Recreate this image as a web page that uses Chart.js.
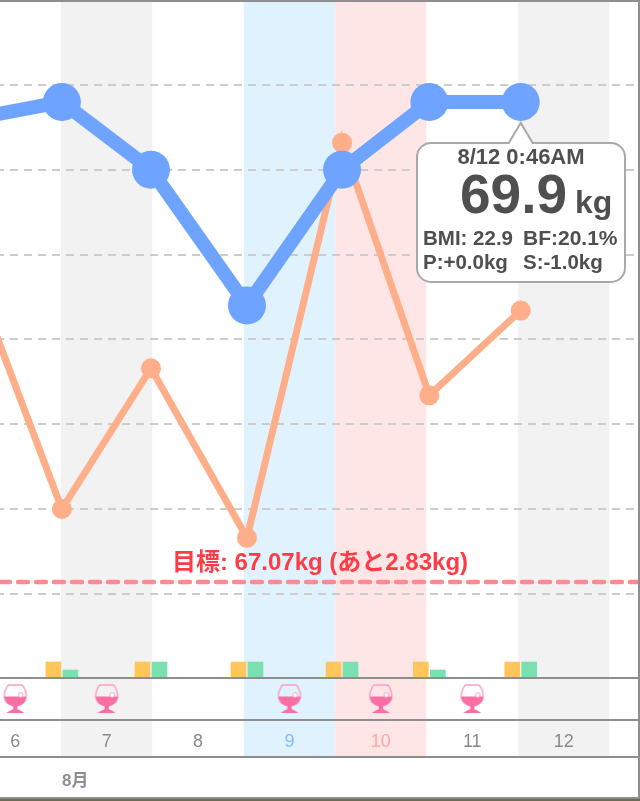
<!DOCTYPE html>
<html><head><meta charset="utf-8">
<style>html,body{margin:0;padding:0;background:#fff}canvas{display:block}</style>
<script src="https://cdn.jsdelivr.net/npm/chart.js@4"></script>
</head><body><canvas id="c" width="640" height="801"></canvas>
<script>
// ---- data ----
const dayLabels = [6,7,8,9,10,11,12];
const measureTimes = [6.03,7.01,7.985,9.035,10.075,11.03,12.03];
const weightKg = [69.8,69.9,69.5,68.7,69.5,69.9,69.9];
const secondSeries = [68.9,67.5,68.33,67.33,69.66,68.17,68.67];
const activityA = [null,2,2,2,2,2,2];
const activityB = [null,1,2,2,2,1,2];
const drinkDays = [6,7,9,10,11];
const goalKg = 67.07;
const gridKg = [70,69.5,69,68.5,68,67.5,67];
const xRange = [6.333,13.335];
const yRange = [66.256,70.501];
const barRange = [-5.25,84.75];
const bandDays = [7,8,9,10,11,12];
const bandColors = ['#f2f2f2','#ffffff','#e0f2fe','#ffe6e6','#ffffff','#f2f2f2'];
const dayColors = {9:'#7fbdff',10:'#ffa6a6'};
const goalText = '目標: 67.07kg (あと2.83kg)';
const monthText = '8月';
const tip = {date:'8/12 0:46AM',value:'69.9',unit:'kg',bmi:'BMI: 22.9',bf:'BF:20.1%',p:'P:+0.0kg',s:'S:-1.0kg'};
const FONT = '"Liberation Sans","Noto Sans CJK JP",sans-serif';

function zip(xs,ys){return xs.map((x,i)=>({x,y:ys[i]})).filter(p=>p.y!==null);}

function glassIcon(){
  const c=document.createElement('canvas');c.width=26;c.height=32;
  const g=c.getContext('2d');
  const pink='#f96fa3';
  g.save();
  g.beginPath();g.moveTo(6,2);g.lineTo(20,2);
  g.bezierCurveTo(23,6,24,10,24,13);g.bezierCurveTo(24,19,19,23,13,23);
  g.bezierCurveTo(7,23,2,19,2,13);g.bezierCurveTo(2,10,3,6,6,2);g.closePath();
  g.strokeStyle='#fb9fc2';g.lineWidth=1.4;g.stroke();
  g.clip();
  g.fillStyle=pink;g.fillRect(0,13.5,26,11);
  g.restore();
  g.beginPath();g.arc(18.5,12,2.4,0,Math.PI*2);g.fillStyle='#fff';g.fill();g.strokeStyle='#fb9fc2';g.lineWidth=1;g.stroke();
  g.fillStyle=pink;
  g.beginPath();g.moveTo(10.5,22);g.lineTo(15.5,22);g.lineTo(15,26);g.lineTo(19,28);g.lineTo(22,30);g.lineTo(4,30);g.lineTo(7,28);g.lineTo(11,26);g.closePath();g.fill();
  return c;
}

const chrome = {
  id:'chrome',
  beforeDraw(ch){
    const {ctx,scales:{x}}=ch;
    ctx.save();
    ctx.fillStyle='#fff';ctx.fillRect(0,0,640,801);
    bandDays.forEach((d,i)=>{
      const a=x.getPixelForValue(d),b=x.getPixelForValue(d+1);
      ctx.fillStyle=bandColors[i];ctx.fillRect(a,0,b-a,757);
    });
    ctx.restore();
  },
  afterDatasetsDraw(ch){
    const {ctx,scales:{x,y,yBar}}=ch;
    ctx.save();
    ctx.fillStyle='#8e8e8e';
    [yBar.getPixelForValue(0)-1,719,756,797].forEach(p=>ctx.fillRect(0,p,638,2));
    ctx.fillRect(0,0,640,2);
    ctx.fillRect(638,0,2,799);
    ctx.fillStyle='#6b6b55';ctx.fillRect(0,799,640,2);
    // goal text
    ctx.fillStyle='#ff3c46';ctx.font='bold 24px '+FONT;ctx.textAlign='center';ctx.textBaseline='alphabetic';
    ctx.fillText(goalText,320,570);
    // month
    ctx.fillStyle='#8e8e8e';ctx.font='bold 17px '+FONT;ctx.textAlign='left';
    ctx.fillText(monthText,62,786);
    // tooltip
    const tx=x.getPixelForValue(measureTimes[measureTimes.length-1]);
    const ty=y.getPixelForValue(weightKg[weightKg.length-1]);
    const L=417,T=143,R=625,B=282,r=14;
    ctx.beginPath();
    ctx.moveTo(L+r,T);ctx.lineTo(tx-12,T);ctx.lineTo(tx,ty+21);ctx.lineTo(tx+12,T);ctx.lineTo(R-r,T);
    ctx.arcTo(R,T,R,T+r,r);ctx.lineTo(R,B-r);ctx.arcTo(R,B,R-r,B,r);ctx.lineTo(L+r,B);ctx.arcTo(L,B,L,B-r,r);ctx.lineTo(L,T+r);ctx.arcTo(L,T,L+r,T,r);ctx.closePath();
    ctx.fillStyle='#fff';ctx.fill();ctx.strokeStyle='#a9a9a9';ctx.lineWidth=2;ctx.stroke();
    ctx.fillStyle='#4f4f4f';ctx.textAlign='center';ctx.font='bold 22px '+FONT;
    ctx.fillText(tip.date,521,164);
    ctx.textAlign='left';ctx.font='bold 55px '+FONT;
    ctx.fillText(tip.value,460,213);
    ctx.font='bold 32px '+FONT;ctx.fillText(tip.unit,575,213);
    ctx.font='bold 20.5px '+FONT;
    ctx.fillText(tip.bmi,423,245);
    ctx.fillText(tip.p,423,269);ctx.fillText(tip.s,523,269);
    ctx.font='bold 21px '+FONT;ctx.fillText(tip.bf,523,245);
    ctx.restore();
  }
};

new Chart(document.getElementById('c'),{
  type:'line',
  data:{datasets:[
    {label:'weight',data:zip(measureTimes,weightKg),borderColor:'#6ea4ff',backgroundColor:'#6ea4ff',borderWidth:14,pointRadius:19,pointBackgroundColor:'#6ea4ff',pointBorderWidth:0,tension:0,order:1,yAxisID:'y'},
    {label:'second',data:zip(measureTimes,secondSeries),borderColor:'#ffae8a',backgroundColor:'#ffae8a',borderWidth:7,pointRadius:10,pointBackgroundColor:'#ffae8a',pointBorderWidth:0,tension:0,order:2,yAxisID:'y'},
    {label:'goal',data:zip(xRange,[goalKg,goalKg]),borderColor:'#ff8a93',borderWidth:4.5,borderDash:[10,8],borderCapStyle:'round',pointRadius:0,order:3,yAxisID:'y'},
    {type:'bar',label:'a',data:zip(measureTimes,activityA),backgroundColor:'#ffc65c',barThickness:17,maxBarThickness:15,order:4,yAxisID:'yBar'},
    {type:'bar',label:'b',data:zip(measureTimes,activityB),backgroundColor:'#7be0b0',barThickness:17,maxBarThickness:15,order:4,yAxisID:'yBar'},
    {label:'drink',data:drinkDays.map(d=>({x:d+0.5,y:-2.625})),showLine:false,pointStyle:glassIcon(),pointRadius:13,order:5,yAxisID:'yBar'}
  ]},
  options:{
    responsive:false,animation:false,
    layout:{autoPadding:false,padding:{top:0,left:0,right:0,bottom:3}},
    plugins:{legend:{display:false},tooltip:{enabled:false}},
    events:[],
    scales:{
      x:{type:'linear',min:xRange[0],max:xRange[1],offset:false,
        grid:{display:false},border:{display:false},
        afterBuildTicks(s){s.ticks=dayLabels.map(d=>({value:d+0.5}));},
        afterFit(s){s.height=78;s.paddingLeft=0;s.paddingRight=0;},
        ticks:{autoSkip:false,maxRotation:0,padding:3,font:{family:FONT,size:18},
          color(c){return dayColors[c.tick.value-0.5]||'#8a8a8a';},
          callback(v){return String(v-0.5);}}
      },
      y:{display:true,min:yRange[0],max:yRange[1],
        afterBuildTicks(s){s.ticks=gridKg.map(v=>({value:v}));},
        afterFit(s){s.width=0;},
        ticks:{display:false},border:{display:false,dash:[8,6],dashOffset:4},
        grid:{color:'#cccccc',lineWidth:2,drawTicks:false},
      },
      yBar:{display:false,min:barRange[0],max:barRange[1]}
    }
  },
  plugins:[chrome]
});
</script></body></html>
